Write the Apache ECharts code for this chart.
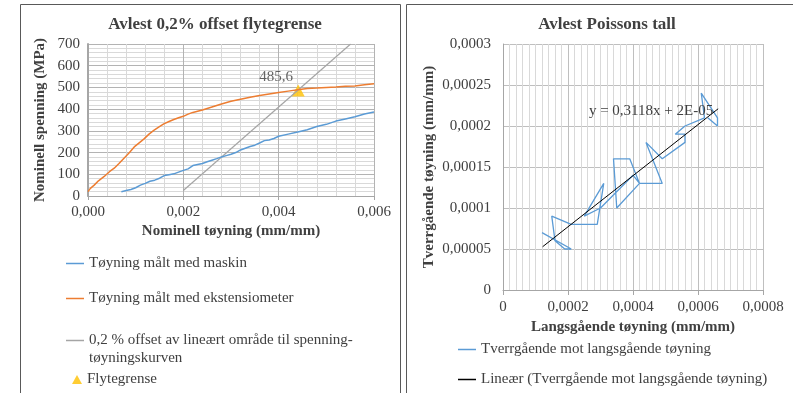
<!DOCTYPE html>
<html>
<head>
<meta charset="utf-8">
<script src="https://cdn.jsdelivr.net/npm/echarts@6/dist/echarts.min.js"></script>
<style>
  html, body { margin: 0; padding: 0; background: #fff; }
  #chart { width: 793px; height: 393px; }
</style>
</head>
<body>
<div id="chart"></div>
<script>
// venstre diagram: spenning-tøyning
var eksStrain = [0, 0.00005, 0.00013, 0.00022, 0.00034, 0.00045, 0.00055, 0.00065, 0.00076, 0.00087, 0.00097, 0.00108, 0.00117, 0.00128, 0.00138, 0.00149, 0.00159, 0.0017, 0.0018, 0.0019, 0.002, 0.0021, 0.0022, 0.0024, 0.0026, 0.0028, 0.003, 0.0032, 0.0034, 0.0036, 0.0038, 0.004, 0.0042, 0.0044, 0.0046, 0.0048, 0.005, 0.0052, 0.0054, 0.0056, 0.0058, 0.006];
var eksStress = [20, 35, 50, 70, 90, 112, 128, 150, 175, 200, 226, 246, 262, 285, 302, 318, 332, 343, 352, 360, 367, 377, 385, 396, 410, 424, 436, 446, 455, 463, 470, 477, 483, 489, 495, 497, 500, 502, 505, 507, 512, 517];

var maskinStrain = [0.0007, 0.0008, 0.0009, 0.001, 0.0011, 0.0012, 0.0013, 0.0014, 0.0015, 0.0016, 0.0017, 0.0018, 0.0019, 0.002, 0.0021, 0.0022, 0.0023, 0.0024, 0.0025, 0.0026, 0.0027, 0.0028, 0.0029, 0.003, 0.0031, 0.0032, 0.0033, 0.0034, 0.0035, 0.0036, 0.0037, 0.0038, 0.0039, 0.004, 0.0042, 0.0044, 0.0046, 0.0048, 0.005, 0.0052, 0.0054, 0.0056, 0.0058, 0.006];
var maskinStress = [20, 25, 30, 38, 50, 58, 68, 73, 82, 94, 98, 102, 110, 118, 125, 140, 145, 150, 158, 165, 172, 180, 186, 192, 200, 212, 220, 228, 234, 244, 255, 258, 265, 275, 285, 295, 305, 320, 330, 345, 355, 365, 378, 387];

var offsetStrain = [0.002, 0.00551];
var offsetStress = [25, 700];

var yieldStrain = [0.00441];
var yieldStress = [485.6];

var leftXTicks = ['0,000', '0,002', '0,004', '0,006'];
var leftYTicks = ['0', '100', '200', '300', '400', '500', '600', '700'];

// høyre diagram: Poissons tall
var langsStrain = [0.00012, 0.00021, 0.00019, 0.00016, 0.00015, 0.00021, 0.00029, 0.00031, 0.00025, 0.0003, 0.0004, 0.00042, 0.00035, 0.00034, 0.00039, 0.00042, 0.00047, 0.00049, 0.00044, 0.00049, 0.00056, 0.00056, 0.00053, 0.00056, 0.00062, 0.00061, 0.00066, 0.00066, 0.00063];
var tverrStrain = [0.00007, 0.00005, 0.00005, 0.00006, 0.00009, 0.00008, 0.00008, 0.00013, 0.00009, 0.0001, 0.00014, 0.00013, 0.0001, 0.00016, 0.00016, 0.00013, 0.00013, 0.00013, 0.00018, 0.00016, 0.00018, 0.00019, 0.00019, 0.0002, 0.00021, 0.00024, 0.00021, 0.0002, 0.00021];

var trendX = [0.000122, 0.000662];
var trendY = [0.0000528, 0.000221];

var rightXTicks = ['0', '0,0002', '0,0004', '0,0006', '0,0008'];
var rightYTicks = ['0', '0,00005', '0,0001', '0,00015', '0,0002', '0,00025', '0,0003'];

function pairs(xs, ys) {
  return xs.map(function (x, i) { return [x, ys[i]]; });
}

var FONT = 'Liberation Serif';
var TXT = '#404040';
var nameMaskin = 'Tøyning målt med maskin';
var nameEks = 'Tøyning målt med ekstensiometer';
var nameOffset = '0,2 % offset av lineært område til spenning-tøyningskurven';
var nameYield = 'Flytegrense';
var nameTverr = 'Tverrgående mot langsgående tøyning';
var nameLin = 'Lineær (Tverrgående mot langsgående tøyning)';

function legendAt(left, top, name, icon, w, h) {
  return {
    left: left, top: top, padding: 0, orient: 'vertical',
    itemWidth: w, itemHeight: h, icon: icon,
    data: [name],
    selectedMode: false,
    formatter: function (n) { return n === nameOffset ? '0,2 % offset av lineært område til spenning-' : n; },
    textStyle: { fontFamily: FONT, fontSize: 15, color: TXT }
  };
}

var axisLbl = { fontFamily: FONT, fontSize: 15, color: TXT };
var axisNm = { fontFamily: FONT, fontSize: 15, fontWeight: 'bold', color: TXT };

var option = {
  animation: false,
  textStyle: { fontFamily: FONT },
  title: [
    { text: 'Avlest 0,2% offset flytegrense', left: 210, top: 11, textAlign: 'center',
      textStyle: { fontFamily: FONT, fontSize: 17, fontWeight: 'bold', color: TXT } },
    { text: 'Avlest Poissons tall', left: 602, top: 11, textAlign: 'center',
      textStyle: { fontFamily: FONT, fontSize: 17, fontWeight: 'bold', color: TXT } }
  ],
  legend: [
    legendAt(66, 256, nameMaskin, 'rect', 18, 1.5),
    legendAt(66, 291, nameEks, 'rect', 18, 1.5),
    legendAt(66, 333, nameOffset, 'rect', 18, 1.5),
    legendAt(72, 372, nameYield, 'triangle', 10, 9),
    legendAt(458, 342, nameTverr, 'rect', 18, 1.5),
    legendAt(458, 372, nameLin, 'rect', 18, 1.5)
  ],
  graphic: [
    { type: 'rect', shape: { x: 20.5, y: 4.5, width: 380, height: 420 },
      style: { fill: 'none', stroke: '#595959', lineWidth: 1 }, silent: true },
    { type: 'rect', shape: { x: 406.5, y: 4.5, width: 392, height: 420 },
      style: { fill: 'none', stroke: '#595959', lineWidth: 1 }, silent: true },
    { type: 'text', left: 89, top: 351,
      style: { text: 'tøyningskurven', fontFamily: FONT, fontSize: 15, fill: TXT } }
  ],
  grid: [
    { left: 88, right: 419, top: 44, bottom: 197 },
    { left: 503, right: 30, top: 44, bottom: 103 }
  ],
  xAxis: [
    {
      gridIndex: 0, type: 'value', min: 0, max: 0.006, interval: 0.002,
      name: 'Nominell tøyning (mm/mm)', nameLocation: 'middle', nameGap: 28, nameTextStyle: axisNm,
      axisLine: { lineStyle: { color: '#a6a6a6' } },
      axisTick: { show: true, length: 4, lineStyle: { color: '#a6a6a6' } },
      axisLabel: Object.assign({ margin: 9, formatter: function (v, i) { return leftXTicks[i]; } }, axisLbl),
      splitLine: { lineStyle: { color: '#b3b3b3' } },
      minorTick: { show: false, splitNumber: 5 },
      minorSplitLine: { show: true, lineStyle: { color: '#d9d9d9' } }
    },
    {
      gridIndex: 1, type: 'value', min: 0, max: 0.0008, interval: 0.0002,
      name: 'Langsgående tøyning (mm/mm)', nameLocation: 'middle', nameGap: 30, nameTextStyle: axisNm,
      axisLine: { lineStyle: { color: '#a6a6a6' } },
      axisTick: { show: true, length: 5, lineStyle: { color: '#a6a6a6' } },
      axisLabel: Object.assign({ margin: 10, formatter: function (v, i) { return rightXTicks[i]; } }, axisLbl),
      splitLine: { lineStyle: { color: '#bfbfbf' } },
      minorTick: { show: false, splitNumber: 10 },
      minorSplitLine: { show: true, lineStyle: { color: '#d9d9d9' } }
    }
  ],
  yAxis: [
    {
      gridIndex: 0, type: 'value', min: 0, max: 700, interval: 100,
      name: 'Nominell spenning (MPa)', nameLocation: 'middle', nameGap: 40, nameTextStyle: axisNm,
      axisLine: { show: true, lineStyle: { color: '#a6a6a6', width: 2 } },
      axisTick: { show: false },
      axisLabel: Object.assign({ margin: 8, formatter: function (v, i) { return leftYTicks[i]; } }, axisLbl),
      splitLine: { lineStyle: { color: '#b3b3b3' } },
      minorTick: { show: false, splitNumber: 5 },
      minorSplitLine: { show: true, lineStyle: { color: '#d9d9d9' } }
    },
    {
      gridIndex: 1, type: 'value', min: 0, max: 0.0003, interval: 0.00005,
      name: 'Tverrgående tøyning (mm/mm)', nameLocation: 'middle', nameGap: 66, nameTextStyle: axisNm,
      axisLine: { show: true, lineStyle: { color: '#a6a6a6' } },
      axisTick: { show: false },
      axisLabel: Object.assign({ margin: 12, formatter: function (v, i) { return rightYTicks[i]; } }, axisLbl),
      splitLine: { lineStyle: { color: '#bfbfbf' } }
    }
  ],
  series: [
    {
      name: nameOffset, type: 'line', xAxisIndex: 0, yAxisIndex: 0,
      data: pairs(offsetStrain, offsetStress), showSymbol: false,
      lineStyle: { color: '#a5a5a5', width: 1.2 }, itemStyle: { color: '#a5a5a5' }
    },
    {
      name: nameMaskin, type: 'line', xAxisIndex: 0, yAxisIndex: 0,
      data: pairs(maskinStrain, maskinStress), showSymbol: false,
      lineStyle: { color: '#5b9bd5', width: 1.5 }, itemStyle: { color: '#5b9bd5' }
    },
    {
      name: nameEks, type: 'line', xAxisIndex: 0, yAxisIndex: 0,
      data: pairs(eksStrain, eksStress), showSymbol: false,
      lineStyle: { color: '#ed7d31', width: 1.5 }, itemStyle: { color: '#ed7d31' }
    },
    {
      name: nameYield, type: 'scatter', xAxisIndex: 0, yAxisIndex: 0,
      data: pairs(yieldStrain, yieldStress), symbol: 'triangle', symbolSize: [13, 12],
      itemStyle: { color: '#ffc000' },
      label: { show: true, position: 'top', offset: [-22, 5],
        formatter: function (p) { return String(p.value[1]).replace('.', ','); },
        fontFamily: FONT, fontSize: 15, color: TXT }
    },
    {
      name: nameTverr, type: 'line', xAxisIndex: 1, yAxisIndex: 1,
      data: pairs(langsStrain, tverrStrain), showSymbol: false,
      lineStyle: { color: '#5b9bd5', width: 1.3 }, itemStyle: { color: '#5b9bd5' }
    },
    {
      name: nameLin, type: 'line', xAxisIndex: 1, yAxisIndex: 1,
      data: pairs(trendX, trendY), symbol: 'none',
      lineStyle: { color: '#000', width: 1 }, itemStyle: { color: '#000' },
      endLabel: { show: true, position: 'left', distance: 5, offset: [-10, 2],
        formatter: 'y = 0,3118x + 2E-05', fontFamily: FONT, fontSize: 15, color: TXT,
        align: 'right' }
    }
  ]
};

var myChart = echarts.init(document.getElementById('chart'));
myChart.setOption(option);
</script>
</body>
</html>
